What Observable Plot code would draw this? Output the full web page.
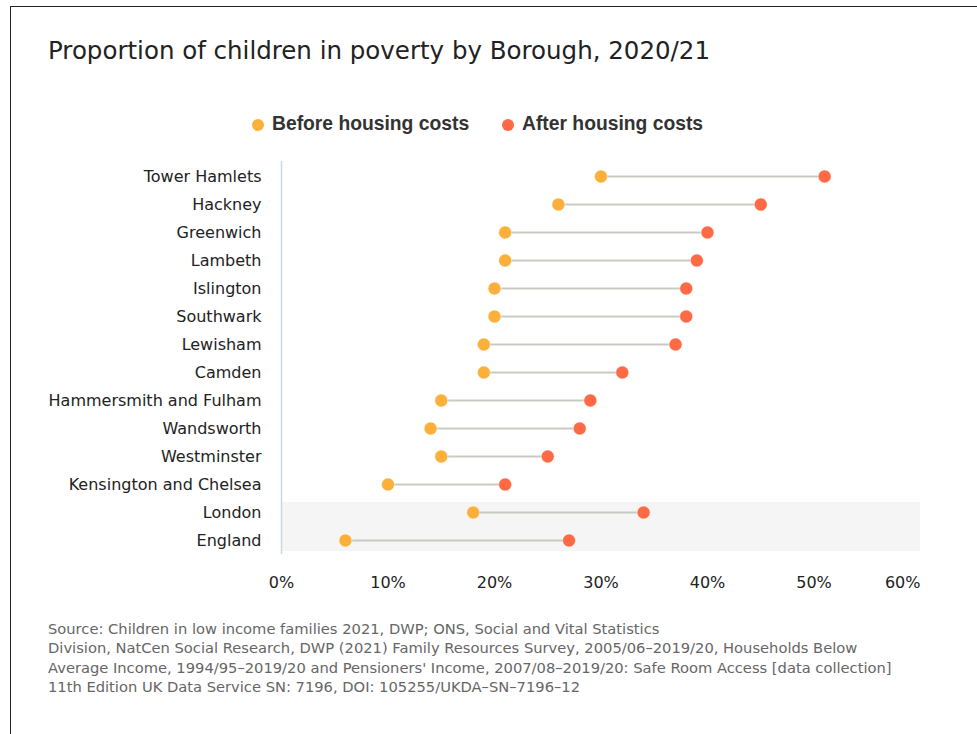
<!DOCTYPE html>
<html>
<head>
<meta charset="utf-8">
<script src="https://cdn.jsdelivr.net/npm/d3@7"></script>
<script src="https://cdn.jsdelivr.net/npm/@observablehq/plot@0.6"></script>
<style>
  html, body { margin: 0; padding: 0; background: #fff; overflow: hidden; }
  #page { position: relative; width: 977px; height: 734px; }
  #frame { position: absolute; left: 10px; top: 6px; width: 990px; height: 760px; border: 1px solid #222; box-sizing: border-box; }
  #title { position: absolute; left: 48px; top: 36px; font: 24.5px "DejaVu Sans", sans-serif; color: #222; white-space: nowrap; }
  .leg { position: absolute; top: 113px; font: bold 19.3px "Liberation Sans", Arial, sans-serif; color: #333; white-space: nowrap; }
  .dot { position: absolute; width: 12px; height: 12px; border-radius: 50%; }
  #chart { position: absolute; left: 0; top: 150px; }
  #source { position: absolute; left: 48px; top: 619px; font: 14.7px "DejaVu Sans", sans-serif; color: #666; line-height: 19.4px; white-space: nowrap; }
</style>
</head>
<body>
<div id="page">
  <div id="frame"></div>
  <div id="title">Proportion of children in poverty by Borough, 2020/21</div>
  <div class="dot" style="left:252px; top:119px; background:#fbb03b"></div>
  <div class="leg" style="left:272px">Before housing costs</div>
  <div class="dot" style="left:502px; top:119px; background:#fe6a46"></div>
  <div class="leg" style="left:522px">After housing costs</div>
  <div id="chart"></div>
  <div id="source">Source: Children in low income families 2021, DWP; ONS, Social and Vital Statistics<br>Division, NatCen Social Research, DWP (2021) Family Resources Survey, 2005/06–2019/20, Households Below<br>Average Income, 1994/95–2019/20 and Pensioners' Income, 2007/08–2019/20: Safe Room Access [data collection]<br>11th Edition UK Data Service SN: 7196, DOI: 105255/UKDA–SN–7196–12</div>
</div>
<script>
const areas = ["Tower Hamlets", "Hackney", "Greenwich", "Lambeth", "Islington", "Southwark", "Lewisham", "Camden", "Hammersmith and Fulham", "Wandsworth", "Westminster", "Kensington and Chelsea", "London", "England"];
const beforeHousing = [30, 26, 21, 21, 20, 20, 19, 19, 15, 14, 15, 10, 18, 6];
const afterHousing = [51, 45, 40, 39, 38, 38, 37, 32, 29, 28, 25, 21, 34, 27];
const xTicks = [0, 10, 20, 30, 40, 50];
const xLastTick = [60];
const beforeColor = "#fbb03b";
const afterColor = "#fe6a46";

const rows = areas.map((name, i) => ({name, before: beforeHousing[i], after: afterHousing[i]}));
const tickFont = {tickSize: 0, tickPadding: 22, fontSize: 16, fontFamily: "DejaVu Sans, sans-serif", fill: "#222", tickFormat: d => d + "%", label: null};

const chart = Plot.plot({
  width: 977,
  height: 450,
  marginLeft: 281,
  marginRight: 57,
  marginTop: 11,
  marginBottom: 46,
  style: {background: "transparent", overflow: "visible"},
  x: {domain: [0, 60]},
  y: {domain: areas, padding: 0, label: null},
  marks: [
    Plot.barX([{name: "London"}], {y: "name", x1: 0, x2: 60, fill: "#f5f5f5", insetTop: 4}),
    Plot.barX([{name: "England"}], {y: "name", x1: 0, x2: 60, fill: "#f5f5f5", insetBottom: 3}),
    Plot.ruleX([0], {stroke: "#ccd6eb", strokeWidth: 1.5}),
    Plot.link(rows, {x1: "before", x2: "after", y1: "name", y2: "name", stroke: "#c9c9c1", strokeWidth: 2}),
    Plot.dot(rows, {x: "before", y: "name", r: 6.5, fill: beforeColor, stroke: "white", strokeWidth: 0.5}),
    Plot.dot(rows, {x: "after", y: "name", r: 6.5, fill: afterColor, stroke: "white", strokeWidth: 0.5}),
    Plot.axisX({...tickFont, ticks: xTicks}),
    Plot.axisX({...tickFont, ticks: xLastTick, textAnchor: "end", dx: 0}),
    Plot.axisY({tickSize: 0, tickPadding: 20, fontSize: 16, fontFamily: "DejaVu Sans, sans-serif", fill: "#222", label: null})
  ]
});
document.getElementById("chart").appendChild(chart);
</script>
</body>
</html>
